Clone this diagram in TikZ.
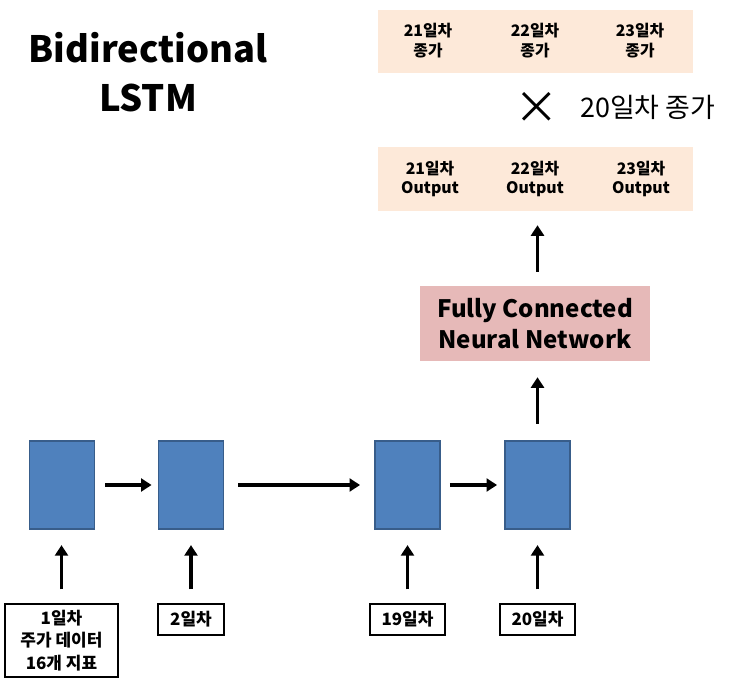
\documentclass[tikz,border=0pt]{standalone}
\usepackage{fontspec}
\setmainfont{Noto Sans CJK KR}
\usepackage{xcolor}
\usetikzlibrary{arrows.meta, positioning, calc}

\definecolor{cellblue}{HTML}{4F81BD}
\definecolor{celledge}{HTML}{385D8A}
\definecolor{fcpink}{HTML}{E6B9B8}
\definecolor{peach}{HTML}{FDE9D9}

\tikzset{
    cell/.style={draw=celledge, line width=1.6pt, fill=cellblue, minimum width=1.95cm, minimum height=2.65cm, inner sep=0pt},
    daybox/.style={draw, line width=0.9pt, minimum height=0.93cm, inner sep=0pt, align=center, font=\fontsize{14.5}{19}\selectfont\bfseries},
    band/.style={fill=peach, minimum width=9.45cm, inner sep=0pt},
    bandtxt/.style={align=center, font=\fontsize{13.5}{17}\selectfont\bfseries},
    flow/.style={line width=3.2pt, -{Triangle[length=9pt, width=11pt]}}
}

\begin{document}
\begin{tikzpicture}[x=0.03cm, y=-0.03cm]
    \useasboundingbox (0,0) rectangle (729,682);

    % Title
    \node[align=center, font=\fontsize{31}{42}\selectfont\bfseries] (title) at (148,72) {Bidirectional\\LSTM};

    % LSTM cells
    \node[cell] (b1) at (62,485) {};
    \node[cell] (b2) at (191,485) {};
    \node[cell] (b3) at (407.5,485) {};
    \node[cell] (b4) at (537.5,485) {};

    % Input days
    \node[daybox, minimum width=3.39cm, minimum height=2.19cm] (in1) at (61.5,640.5) {1일차\\주가 데이터\\16개 지표};
    \node[daybox, minimum width=1.98cm] (in2) at (191,619.5) {2일차};
    \node[daybox, minimum width=2.25cm] (in3) at (407.5,619.5) {19일차};
    \node[daybox, minimum width=2.25cm] (in4) at (537.5,619.5) {20일차};

    % Fully connected layer
    \node[fill=fcpink, minimum width=6.9cm, minimum height=2.25cm, align=center, inner sep=0pt,
          font=\fontsize{20.5}{27}\selectfont\bfseries] (fc) at (535,323.5) {Fully Connected\\Neural Network};

    % Outputs
    \node[band, minimum height=1.92cm] (out) at (535.5,179) {};
    \node[bandtxt] (o1) at (430,179) {21일차\\Output};
    \node[bandtxt] (o2) at (535,179) {22일차\\Output};
    \node[bandtxt] (o3) at (641,179) {23일차\\Output};

    % Multiply by day-20 price
    \node[font=\fontsize{38}{38}\selectfont] (times) at (537,108) {×};
    \node[anchor=west, inner sep=0pt, font=\fontsize{23}{26}\selectfont] (t20) at (580,107) {20일차 종가};

    % Predicted prices
    \node[band, minimum height=1.89cm] (price) at (535.5,41.5) {};
    \node[bandtxt] (p1) at (428,41) {21일차\\종가};
    \node[bandtxt] (p2) at (535,41) {22일차\\종가};
    \node[bandtxt] (p3) at (640,41) {23일차\\종가};

    % Arrows
    \draw[flow, shorten <=0.42cm, shorten >=0.45cm] (in1.north) -- (in1.north |- b1.south);
    \draw[flow, shorten <=0.42cm, shorten >=0.45cm] (in2.north) -- (b2.south);
    \draw[flow, shorten <=0.42cm, shorten >=0.45cm] (in3.north) -- (b3.south);
    \draw[flow, shorten <=0.42cm, shorten >=0.45cm] (in4.north) -- (b4.south);

    \draw[flow, shorten <=0.3cm, shorten >=0.18cm] (b1.east) -- (b2.west);
    \draw[flow, shorten <=0.42cm, shorten >=0.42cm] (b2.east) -- (b3.west);
    \draw[flow, shorten <=0.27cm, shorten >=0.21cm] (b3.east) -- (b4.west);

    \draw[flow, shorten <=0.48cm, shorten >=0.48cm] (b4.north) -- (b4.north |- fc.south);
    \draw[flow, shorten <=0.42cm, shorten >=0.42cm] (b4.north |- fc.north) -- (b4.north |- out.south);
\end{tikzpicture}
\end{document}
